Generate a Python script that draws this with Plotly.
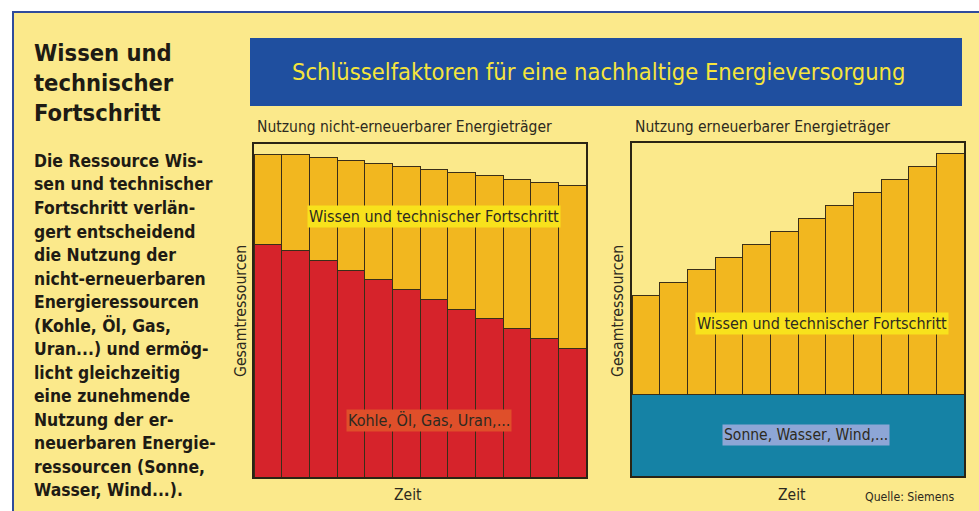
import plotly.graph_objects as go

W, H = 979, 511

# ---------------- data ----------------
periods = list(range(1, 13))
fossil = [69.9, 67.9, 64.9, 62.1, 59.3, 56.4, 53.4, 50.4, 47.5, 44.5, 41.5, 38.6]
knowledge_fossil = [27.0, 28.9, 31.0, 32.8, 34.8, 36.7, 38.9, 40.9, 42.9, 44.9, 46.9, 48.8]
renewable = [24.6, 24.6, 24.6, 24.6, 24.6, 24.6, 24.6, 24.6, 24.6, 24.6, 24.6, 24.6]
knowledge_renew = [29.5, 33.4, 37.3, 41.1, 45.0, 48.9, 52.8, 56.7, 60.6, 64.5, 68.4, 72.2]

main_title = "Schlüsselfaktoren für eine nachhaltige Energieversorgung"
left_sub = "Nutzung nicht-erneuerbarer Energieträger"
right_sub = "Nutzung erneuerbarer Energieträger"
label_knowledge = "Wissen und technischer Fortschritt"
label_fossil = "Kohle, Öl, Gas, Uran,..."
label_renew = "Sonne, Wasser, Wind,..."
y_title = "Gesamtressourcen"
x_title = "Zeit"
source = "Quelle: Siemens"
side_title = ["Wissen und", "technischer", "Fortschritt"]
side_body = [
    "Die Ressource Wis-",
    "sen und technischer",
    "Fortschritt verlän-",
    "gert entscheidend",
    "die Nutzung der",
    "nicht-erneuerbaren",
    "Energieressourcen",
    "(Kohle, Öl, Gas,",
    "Uran...) und ermög-",
    "licht gleichzeitig",
    "eine zunehmende",
    "Nutzung der er-",
    "neuerbaren Energie-",
    "ressourcen (Sonne,",
    "Wasser, Wind...).",
]

# ---------------- style ----------------
FONT = "Liberation Sans Narrow, Arial Narrow, DejaVu Sans Condensed, Liberation Sans, sans-serif"
PANEL = "#fbe98b"
PANEL_LINE = "#2f4b9c"
BANNER = "#1f4f9f"
BANNER_TXT = "#f5e53c"
ORANGE = "#f2b71f"
RED = "#d6232b"
TEAL = "#1582a5"
EDGE = "#3a2e18"
TXT = "#2d2a20"


def px(x):
    return x / W


def py(y):
    return 1 - y / H


fig = go.Figure()

bar_line = dict(color=EDGE, width=1)
fig.add_trace(go.Bar(x=periods, y=fossil, marker=dict(color=RED, line=bar_line),
                     xaxis="x", yaxis="y", hoverinfo="skip"))
fig.add_trace(go.Bar(x=periods, y=knowledge_fossil, marker=dict(color=ORANGE, line=bar_line),
                     xaxis="x", yaxis="y", hoverinfo="skip"))
fig.add_trace(go.Bar(x=periods, y=renewable, marker=dict(color=TEAL, line=dict(color=TEAL, width=1)),
                     xaxis="x2", yaxis="y2", hoverinfo="skip"))
fig.add_trace(go.Bar(x=periods, y=knowledge_renew, marker=dict(color=ORANGE, line=bar_line),
                     xaxis="x2", yaxis="y2", hoverinfo="skip"))

ax_common = dict(showticklabels=False, showgrid=False, zeroline=False, ticks="",
                 showline=True, mirror=True, linecolor="#2a2414", linewidth=2, fixedrange=True)

fig.update_layout(
    width=W, height=H,
    margin=dict(l=0, r=0, t=0, b=0),
    paper_bgcolor="white",
    plot_bgcolor="rgba(0,0,0,0)",
    showlegend=False,
    barmode="stack",
    bargap=0,
    font=dict(family=FONT, color=TXT),
    xaxis=dict(domain=[px(254), px(586)], range=[0.5, 12.5], anchor="y", **ax_common),
    yaxis=dict(domain=[py(477), py(144)], range=[0, 100], anchor="x", **ax_common),
    xaxis2=dict(domain=[px(632), px(964)], range=[0.5, 12.5], anchor="y2", **ax_common),
    yaxis2=dict(domain=[py(476), py(143)], range=[0, 100], anchor="x2", **ax_common),
)

# background panel and banner
fig.add_shape(type="rect", xref="paper", yref="paper", x0=px(13), x1=px(1000), y0=py(530), y1=py(12),
              fillcolor=PANEL, line=dict(color=PANEL_LINE, width=2), layer="below")
fig.add_shape(type="rect", xref="paper", yref="paper", x0=px(250), x1=px(962), y0=py(106), y1=py(38),
              fillcolor=BANNER, line=dict(width=0), layer="below")

ann = []


def text(x, y, s, size, color=TXT, xanchor="center", bold=False, angle=0, bg=None):
    d = dict(x=px(x), y=py(y), xref="paper", yref="paper", text=("<b>%s</b>" % s) if bold else s,
             showarrow=False, xanchor=xanchor, yanchor="middle", textangle=angle,
             font=dict(family=FONT, size=size, color=color))
    if bg:
        d.update(bgcolor=bg, borderpad=1)
    ann.append(d)


text(598, 72, main_title, 23.5, color=BANNER_TXT)
text(255, 127, left_sub, 15.5, xanchor="left")
text(633, 127, right_sub, 15.5, xanchor="left")

text(434, 216, label_knowledge, 16, bg="#f8e21c")
text(429, 420, label_fossil, 16, bg="#df4f2a")
text(822, 323, label_knowledge, 16, bg="#f8e21c")
text(806, 435, label_renew, 15.5, bg="#8da6d6")

text(240, 311, y_title, 15.7, angle=-90)
text(617, 311, y_title, 15.7, angle=-90)
text(408, 495, x_title, 15.5)
text(792, 495, x_title, 15.5)
text(909, 497, source, 12.2)

for i, line in enumerate(side_title):
    text(32, 53 + i * 30, line, 23.5, color="#1e1b14", xanchor="left", bold=True)
for i, line in enumerate(side_body):
    text(32, 161 + i * 23.5, line, 17.4, color="#1e1b14", xanchor="left", bold=True)

fig.update_layout(annotations=ann)

fig.write_html("out.html",
               config={"displayModeBar": False, "staticPlot": True},
               post_script="document.body.style.margin='0';document.body.style.overflow='hidden';")
